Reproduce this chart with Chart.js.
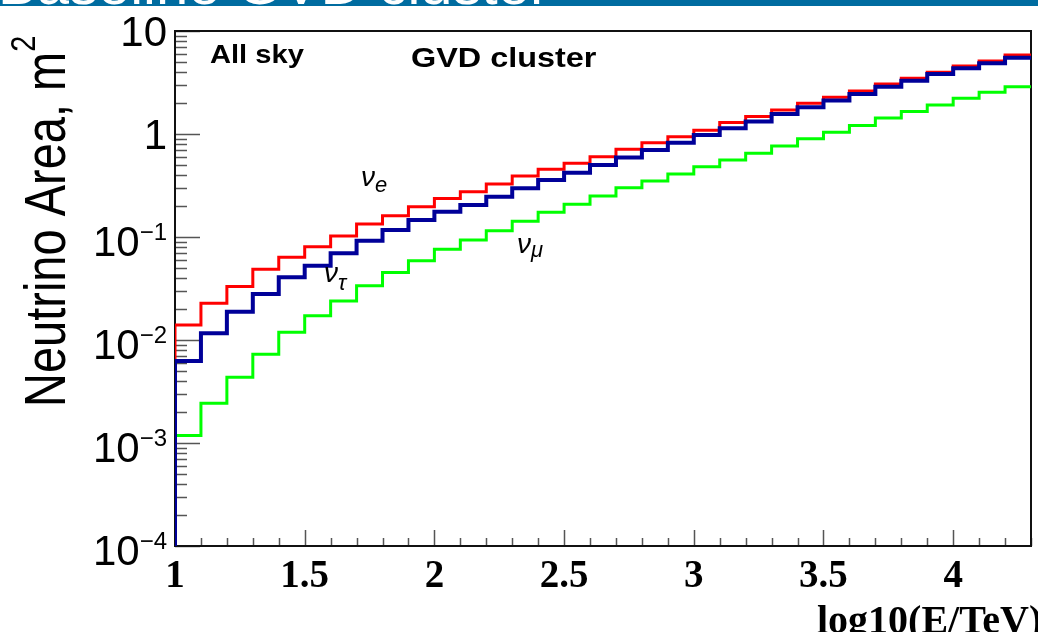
<!DOCTYPE html>
<html>
<head>
<meta charset="utf-8">
<title>Neutrino effective area</title>
<script src="https://cdn.jsdelivr.net/npm/chart.js@4.4.1/dist/chart.umd.min.js"></script>
<style>
  html, body { margin: 0; padding: 0; background: #fff; }
  canvas { display: block; }
</style>
</head>
<body>
<canvas id="area" width="1038" height="632"></canvas>
<script>
// bin edges in log10(E/TeV), 0.1 wide
const binEdges = [1.0, 1.1, 1.2, 1.3, 1.4, 1.5, 1.6, 1.7, 1.8, 1.9, 2.0, 2.1, 2.2,
  2.3, 2.4, 2.5, 2.6, 2.7, 2.8, 2.9, 3.0, 3.1, 3.2, 3.3, 3.4, 3.5, 3.6, 3.7, 3.8,
  3.9, 4.0, 4.1, 4.2, 4.3];

// effective area per bin, m^2
const areaNuE = [0.014, 0.0227, 0.033, 0.0486, 0.0635, 0.0805, 0.102, 0.134, 0.161,
  0.197, 0.237, 0.275, 0.327, 0.391, 0.454, 0.519, 0.602, 0.71, 0.824, 0.94, 1.09,
  1.29, 1.48, 1.71, 1.99, 2.27, 2.61, 3.06, 3.47, 3.97, 4.57, 5.11, 5.85];
const areaNuTau = [0.00625, 0.0116, 0.0188, 0.028, 0.0406, 0.0527, 0.0695, 0.092,
  0.117, 0.146, 0.176, 0.205, 0.246, 0.297, 0.357, 0.421, 0.50, 0.593, 0.70, 0.824,
  0.977, 1.135, 1.32, 1.56, 1.82, 2.11, 2.44, 2.88, 3.29, 3.83, 4.35, 4.86, 5.51];
const areaNuMu = [0.00118, 0.00243, 0.00435, 0.00726, 0.0119, 0.0172, 0.0239, 0.0337,
  0.0451, 0.0589, 0.076, 0.0935, 0.115, 0.142, 0.174, 0.208, 0.25, 0.301, 0.35, 0.409,
  0.482, 0.56, 0.649, 0.764, 0.90, 1.04, 1.21, 1.43, 1.65, 1.91, 2.22, 2.54, 2.88];

// axis ranges and labels
const xRange = [1, 4.3];
const yRange = [1e-4, 10];
const xTickValues = [1, 1.5, 2, 2.5, 3, 3.5, 4];
const xTickLabels = ['1', '1.5', '2', '2.5', '3', '3.5', '4'];
const yTickValues = [1e-4, 1e-3, 1e-2, 1e-1, 1, 10];
const yTickBase = ['10', '10', '10', '10', '1', '10'];
const yTickSup = ['\u22124', '\u22123', '\u22122', '\u22121', '', ''];

const SANS = '"Liberation Sans", Arial, Helvetica, sans-serif';
const SERIF = '"Liberation Serif", "Times New Roman", serif';

// histogram outline: start on the axis floor, then one point per bin right edge
function histPoints(values) {
  const pts = [{ x: binEdges[0], y: yRange[0] }];
  values.forEach((v, i) => pts.push({ x: binEdges[i + 1], y: v }));
  return pts;
}

function text(ctx, str, x, y, font, opts = {}) {
  ctx.save();
  ctx.translate(x, y);
  if (opts.rot) ctx.rotate(opts.rot);
  ctx.scale(opts.sx || 1, opts.sy || 1);
  ctx.font = font;
  ctx.fillStyle = opts.color || '#000';
  ctx.textAlign = opts.align || 'left';
  ctx.textBaseline = 'alphabetic';
  ctx.fillText(str, 0, 0);
  ctx.restore();
}

// nu + subscript label
function nuLabel(ctx, x, y, sub, subDy) {
  ctx.font = 'italic 28px ' + SANS;
  const w = ctx.measureText('\u03bd').width;
  text(ctx, '\u03bd', x, y, 'italic 28px ' + SANS);
  text(ctx, sub, x + w, y + subDy, 'italic 22px ' + SANS);
}

const rootFrame = {
  id: 'rootFrame',
  beforeDatasetsDraw(chart) {
    const { ctx, chartArea: a, scales: { x, y } } = chart;
    ctx.save();
    ctx.strokeStyle = '#555';
    ctx.lineWidth = 1.5;
    ctx.beginPath();
    // y ticks, inside the frame
    for (let d = -4; d <= 1; d++) {
      for (let k = 1; k <= 9; k++) {
        const v = k * Math.pow(10, d);
        if (v < yRange[0] || v > yRange[1]) continue;
        const py = Math.round(y.getPixelForValue(v)) + 0.5;
        ctx.moveTo(a.left, py);
        ctx.lineTo(a.left + (k === 1 ? 25 : 12), py);
      }
    }
    // x ticks, every 0.1 with a long one every 0.5
    binEdges.forEach((e, i) => {
      const px = Math.round(x.getPixelForValue(e)) + 0.5;
      ctx.moveTo(px, a.bottom);
      ctx.lineTo(px, a.bottom - (i % 5 === 0 ? 16 : 8));
    });
    ctx.stroke();
    ctx.strokeStyle = '#111';
    ctx.lineWidth = 2;
    ctx.strokeRect(a.left, a.top, a.right - a.left, a.bottom - a.top);
    ctx.restore();
  },
  afterDraw(chart) {
    const { ctx, scales: { x, y } } = chart;

    // y tick labels with superscript exponents
    yTickValues.forEach((v, i) => {
      const py = y.getPixelForValue(v);
      if (yTickSup[i]) {
        ctx.font = '24px ' + SANS;
        const sw = ctx.measureText(yTickSup[i]).width;
        text(ctx, yTickSup[i], 167, py + 3, '24px ' + SANS, { align: 'right' });
        text(ctx, yTickBase[i], 167 - sw, py + 19, '42px ' + SANS, { align: 'right' });
      } else {
        text(ctx, yTickBase[i], 167, py + 15, '42px ' + SANS, { align: 'right' });
      }
    });

    // x tick labels
    xTickValues.forEach((v, i) => {
      text(ctx, xTickLabels[i], x.getPixelForValue(v), 587, 'bold 39px ' + SERIF, { align: 'center' });
    });

    // axis titles
    text(ctx, 'log10(E/TeV)', 817, 633, 'bold 40px ' + SERIF);
    ctx.font = '47px ' + SANS;
    const tw = ctx.measureText('Neutrino Area, m').width;
    ctx.save();
    ctx.translate(65, 407);
    ctx.rotate(-Math.PI / 2);
    ctx.scale(1, 1.24);
    ctx.fillStyle = '#000';
    ctx.font = '47px ' + SANS;
    ctx.fillText('Neutrino Area, m', 0, 0);
    ctx.font = '29px ' + SANS;
    ctx.fillText('2', tw, -24);
    ctx.restore();

    // in-plot annotations
    text(ctx, 'All sky', 210, 63, 'bold 26px ' + SANS, { sx: 1.12 });
    text(ctx, 'GVD cluster', 411, 67, 'bold 27px ' + SANS, { sx: 1.2 });
    nuLabel(ctx, 361, 186, 'e', 6);
    nuLabel(ctx, 324, 282, '\u03c4', 8);
    nuLabel(ctx, 517, 253, '\u03bc', 4);

    // slide header strip along the top edge
    ctx.save();
    ctx.fillStyle = '#006ca0';
    ctx.fillRect(0, 0, chart.width, 6);
    ctx.beginPath();
    ctx.rect(0, 0, chart.width, 6);
    ctx.clip();
    text(ctx, 'Baseline GVD cluster', -2, 4, '58px ' + SANS, { color: '#fff' });
    ctx.restore();
  }
};

new Chart(document.getElementById('area'), {
  type: 'line',
  data: {
    datasets: [
      { label: '\u03bd\u03c4', data: histPoints(areaNuTau), borderColor: '#000099', borderWidth: 4 },
      { label: '\u03bde', data: histPoints(areaNuE), borderColor: '#ff0000', borderWidth: 3 },
      { label: '\u03bd\u03bc', data: histPoints(areaNuMu), borderColor: '#00ff00', borderWidth: 3 }
    ].map(ds => Object.assign(ds, {
      stepped: 'after',
      pointRadius: 0,
      fill: false,
      borderJoinStyle: 'miter',
      borderCapStyle: 'butt'
    }))
  },
  options: {
    responsive: false,
    animation: false,
    devicePixelRatio: 1,
    layout: { padding: { left: 175, top: 31, right: 7, bottom: 86 } },
    plugins: { legend: { display: false }, tooltip: { enabled: false } },
    scales: {
      x: { type: 'linear', min: xRange[0], max: xRange[1], display: false },
      y: { type: 'logarithmic', min: yRange[0], max: yRange[1], display: false }
    }
  },
  plugins: [rootFrame]
});
</script>
</body>
</html>
